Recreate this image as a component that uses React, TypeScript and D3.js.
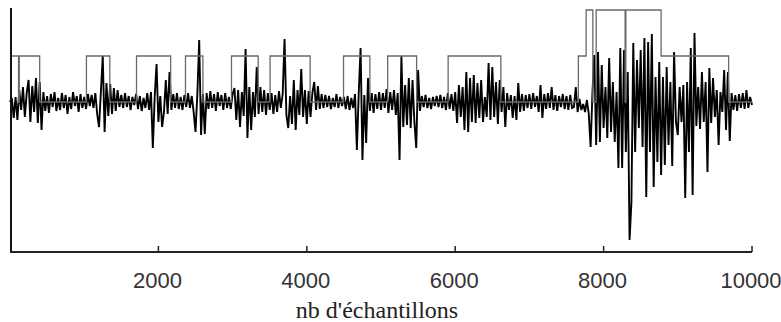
import React from 'react'
import * as d3 from 'd3'

// signal, one value every 25 samples
const sampleStep = 25
const signal = [
  0, 0.4, -1.6, 0.5, -1.8, 1.2, -0.8, 1.5, -1.5, 0.9, 2.2, -2.0, 1.6, -1.0, 2.4, -2.1, 2.0, -2.8, 1.0, -0.9,
  0.6, -1.1, 0.8, -0.5, 1.0, -0.9, 0.4, -0.8, 0.9, -0.6, 0.7, -1.2, 0.5, -0.7, 1.0, -0.4, 0.6, -1.0, 0.8, -0.6,
  0.5, -0.7, 0.8, -0.4, 0.7, -0.6, 0.9, -1.2, -2.5, 1.0, 4.6, -3.0, 1.9, -1.4, 1.8, -1.2, 1.4, -0.9, 1.2, -0.5,
  0.7, -0.6, 0.9, -0.5, 0.6, -0.8, 0.5, -0.3, 0.8, -0.7, 0.6, -0.9, 0.4, -0.6, 0.9, -0.8, 1.0, -4.6, 0.5, 3.8,
  -2.0, 0.6, -2.5, -1.0, 2.2, -1.2, 3.0, -0.8, 0.8, -0.6, 0.9, -0.7, 0.5, -0.8, 0.7, -0.5, 0.9, -0.6, 0.6, -1.0,
  -3.0, 0.8, 6.2, -3.3, 0.8, -3.2, 0.9, -0.7, 1.1, -0.6, 0.8, -0.9, 1.0, -0.4, 0.7, -0.8, 0.9, -0.6, 0.5, -0.7,
  0.8, 1.4, -1.8, 1.2, -2.5, 1.0, -1.4, 5.3, -3.6, 1.5, -2.8, 1.0, -1.5, 3.5, -1.2, 1.5, -1.0, 1.2, -1.3, 0.9,
  -0.8, 0.9, -1.2, 0.7, -1.0, 1.1, -0.6, 0.8, 6.3, -1.3, -2.6, 0.6, -2.2, 2.2, -2.8, 1.2, -1.3, 3.3, -1.5, 1.2,
  -2.2, 1.1, -1.5, 0.9, 2.0, -0.8, 1.6, -0.7, 0.8, -0.6, 0.7, -0.5, 0.6, -0.7, 0.4, -0.5, 0.8, -0.6, 0.5, -0.4,
  0.5, -0.7, 0.6, -0.8, 0.4, -0.6, 0.8, -4.8, 0.9, 5.4, -5.8, 0.7, -4.1, 2.4, -0.9, 0.9, -1.1, 0.8, -0.7, 1.0,
  -0.8, 0.9, -0.6, 1.3, -1.1, 1.0, -0.8, 1.2, -1.3, 0.9, -5.8, 4.6, -2.5, 1.7, -2.3, 2.4, -2.6, 2.2, -2.0, -4.6,
  3.2, -0.9, 0.6, -0.5, 0.7, -0.6, 0.4, -0.7, 0.5, -0.4, 0.6, -0.5, 0.7, -0.6, 0.5, -0.8, 0.9, -0.7, 0.8, -0.9,
  1.0, -2.1, 1.7, -1.5, 1.5, -2.8, 3.0, -3.0, 2.4, -2.0, 2.7, -2.1, 1.9, -1.6, 2.2, -2.0, 0.5, -1.5, 3.9, -1.8,
  3.5, -1.5, 2.0, -2.2, 2.2, -1.0, 1.5, -2.5, 0.9, -0.8, 0.7, -1.6, 0.6, -1.8, 1.9, -1.0, 0.8, -0.9, 0.7, -0.6,
  0.8, -0.7, 0.9, -0.5, 0.6, -1.0, 1.7, -1.6, 0.8, -0.7, 0.9, -0.6, 1.5, -0.8, 0.7, -0.9, 0.6, -0.5, 0.8, -0.7,
  0.6, -0.8, 0.7, -0.6, -0.5, 1.5, -1.0, 0.3, -0.8, -0.2, -1.0, 0.2, -1.2, -4.5, 1.0, 4.7, -4.3, 5.0, -4.0, 3.7,
  -2.6, 1.5, -3.6, 4.4, -3.0, 2.0, -4.0, 1.0, -6.6, 5.4, -6.6, 5.2, -5.0, 3.0, -13.8, -10.0, 5.9, -5.0, 4.2, -2.6,
  5.2, -4.5, 6.4, -9.5, 6.0, -5.0, 6.8, -8.5, 2.5, -6.0, 4.0, -7.3, 2.5, -6.3, 3.5, -4.3, 2.0, -6.4, 5.0, -2.0,
  -3.3, 1.5, -2.0, 1.7, -9.6, 2.0, -5.0, 5.4, -9.3, 6.9, -2.4, 1.5, -2.7, 3.0, -2.0, 2.0, -7.0, 3.4, -2.1, 2.4,
  -1.5, 1.2, -4.3, 1.0, -1.0, 3.2, -2.8, 3.0, -3.9, 0.9, -0.8, 0.7, -0.9, 0.8, -0.6, 0.9, -0.7, 1.2, -0.6, 0.5,
  -0.3,
]

// segmentation (step function): level starts at stepX and holds until the next one
const stepX = [0, 115, 125, 400, 1030, 1345, 1705, 2165, 2365, 2600, 2985, 3345, 3505, 4045, 4495, 4850,
  5090, 5480, 5905, 6615, 7660, 7765, 7855, 7900, 8290, 8300, 8775, 9685, 10000]
const stepLevel = [4.6, 0, 4.6, 0, 4.6, 0, 4.6, 0, 4.6, 0, 4.6, 0, 4.6, 0, 4.6, 0,
  4.6, 0, 4.6, 0, 4.6, 9.2, 0, 9.2, 0, 9.2, 4.6, 0, 0]

const xTicks = [2000, 4000, 6000, 8000, 10000]
const xTitle = "nb d'échantillons"

const W = 781
const H = 322

export default function App() {
  const x = d3.scaleLinear().domain([0, 10000]).range([10, 752])
  const y = d3.scaleLinear().domain([-15, 9.4]).range([252, 8])

  const sigLine = d3.line<number>()
    .x((d, i) => x(i * sampleStep))
    .y(d => y(d))

  const stepLine = d3.line<number>()
    .x((d, i) => x(stepX[i]))
    .y(d => y(d))
    .curve(d3.curveStepAfter)

  return (
    <svg width={W} height={H} style={{ position: 'absolute', left: 0, top: 0, background: '#fff' }}>
      <path d={sigLine(signal) || ''} fill='none' stroke='#000' strokeWidth={1.9} strokeLinejoin='miter' strokeMiterlimit={2} />
      <path d={stepLine(stepLevel) || ''} fill='none' stroke='#6a6a6a' strokeWidth={1.3} />

      {/* axes */}
      <line x1={x(0) + 1} x2={x(0) + 1} y1={y(9.4)} y2={y(-15)} stroke='#111' strokeWidth={2} />
      <line x1={x(0)} x2={x(10000)} y1={y(-15)} y2={y(-15)} stroke='#222' strokeWidth={2} />
      {xTicks.map(t => (
        <g key={t}>
          <line x1={x(t)} x2={x(t)} y1={y(-15)} y2={y(-15) - 6} stroke='#222' strokeWidth={1.5} />
          <text x={x(t) - 1} y={288} textAnchor='middle'
            style={{ fontFamily: 'Liberation Sans, Arial, sans-serif', fontSize: 22, fill: '#333' }}>
            {t}
          </text>
        </g>
      ))}
      <text x={377} y={318} textAnchor='middle'
        style={{ fontFamily: 'Liberation Serif, Times New Roman, serif', fontSize: 24, fill: '#222' }}>
        {xTitle}
      </text>
    </svg>
  )
}
